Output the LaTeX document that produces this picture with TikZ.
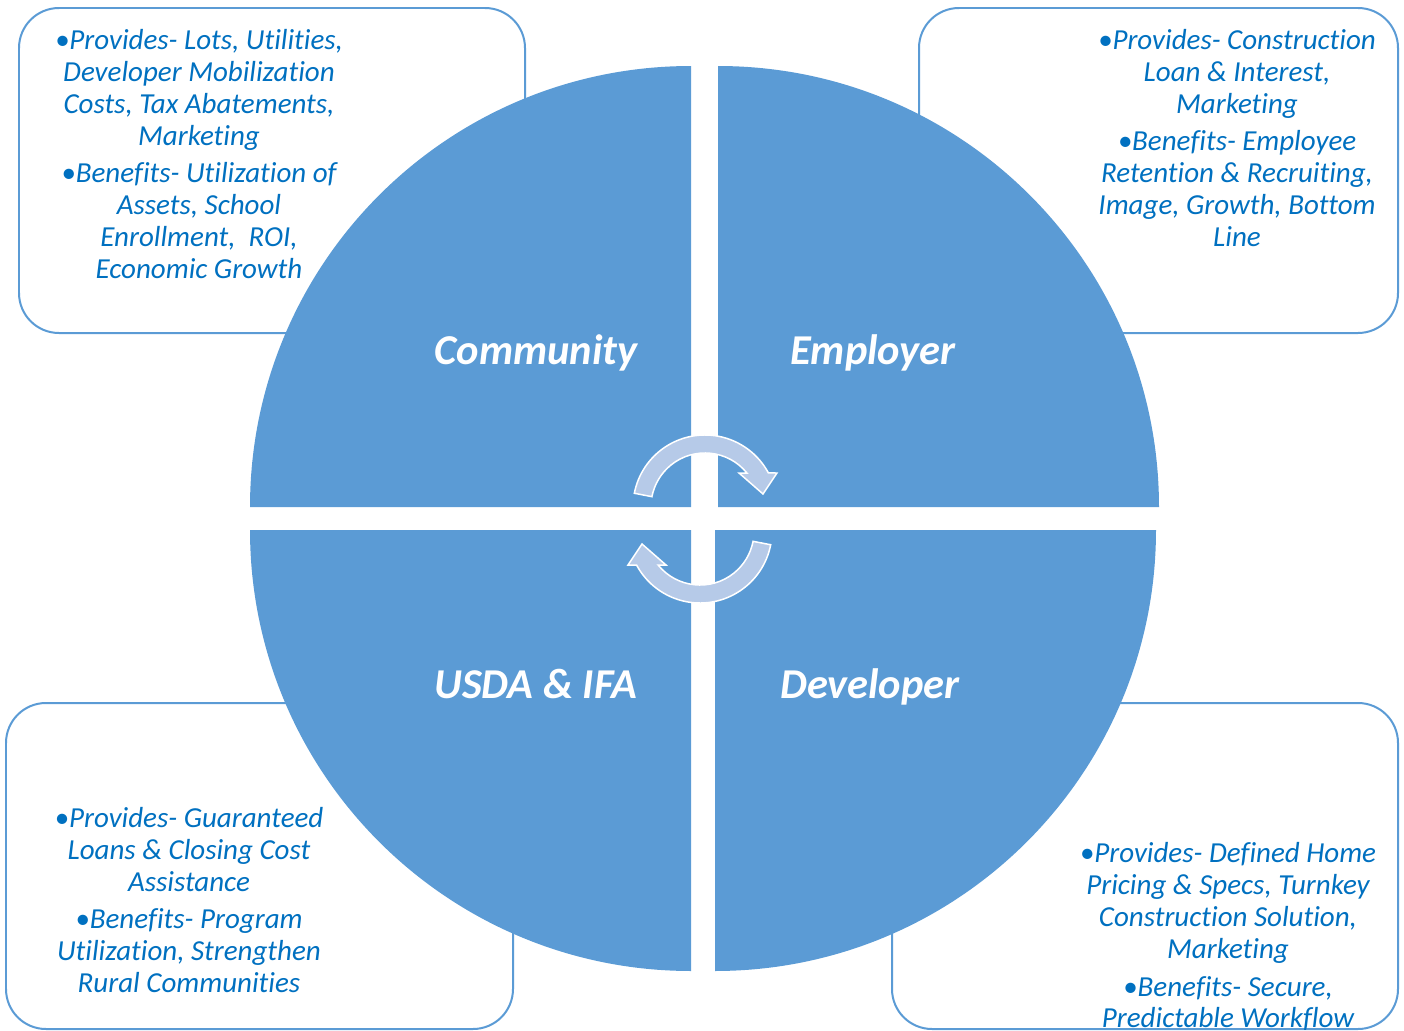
\documentclass[tikz,border=0pt]{standalone}
\usepackage{fontspec}
\setmainfont{Carlito}[Ligatures=CommonOff]
\definecolor{qblue}{HTML}{5B9BD5}
\definecolor{tblue}{HTML}{0070C0}
\definecolor{arrowfill}{HTML}{B6CAE8}
\begin{document}
\begin{tikzpicture}[x=0.02cm,y=-0.02cm,
  infobox/.style={draw=qblue, line width=0.04cm, rounded corners=0.8cm},
  infotext/.style={text=tblue, font=\fontsize{16.5}{18.1}\selectfont\itshape, align=center, inner sep=0},
  quad/.style={fill=qblue},
  lbl/.style={text=white, font=\fontsize{24.2}{28}\selectfont\bfseries\itshape, anchor=base, inner sep=0},
  cyc/.style={fill=arrowfill, draw=white, line width=0.03cm, line join=miter}]
\useasboundingbox (0,0) rectangle (1404,1031);

% info boxes
\draw[infobox] (19,8) rectangle (525,333);
\draw[infobox] (919,8) rectangle (1398,333);
\draw[infobox] (6,703) rectangle (513,1029);
\draw[infobox] (892,703) rectangle (1398,1029);

\node[infotext] (tltext) at (199,154) {%
  •Provides- Lots, Utilities,\\ Developer Mobilization\\ Costs, Tax Abatements,\\ Marketing\\[0.12cm]
  •Benefits- Utilization of\\ Assets, School\\ Enrollment,\ \ ROI,\\ Economic Growth};
\node[infotext] (trtext) at (1237,138) {%
  •Provides- Construction\\ Loan \& Interest,\\ Marketing\\[0.12cm]
  •Benefits- Employee\\ Retention \& Recruiting,\\ Image, Growth, Bottom\\ Line};
\node[infotext] (bltext) at (189,900) {%
  •Provides- Guaranteed\\ Loans \& Closing Cost\\ Assistance\\[0.12cm]
  •Benefits- Program\\ Utilization, Strengthen\\ Rural Communities};
\begin{scope}
  \clip (892,703) rectangle (1398,1029);
  \node[infotext] (brtext) at (1228,937) {%
    •Provides- Defined Home\\ Pricing \& Specs, Turnkey\\ Construction Solution,\\ Marketing\\[0.12cm]
    •Benefits- Secure,\\ Predictable Workflow};
\end{scope}

% quadrants
\fill[quad] (691,507) -- ++(180:441) arc[start angle=180,end angle=270,radius=441] -- cycle;
\fill[quad] (718,507) -- ++(270:441) arc[start angle=270,end angle=360,radius=441] -- cycle;
\fill[quad] (715,530) -- ++(0:441) arc[start angle=0,end angle=90,radius=441] -- cycle;
\fill[quad] (691,530) -- ++(90:441) arc[start angle=90,end angle=180,radius=441] -- cycle;

% circular arrows
\begin{scope}[shift={(705,507)}]
  \filldraw[cyc] (-169:72) arc[start angle=-169,end angle=-28.2,radius=72]
    -- (72,-34) -- (58,-13) -- (34,-34) -- (41.9,-34)
    arc[start angle=-39,end angle=-169,radius=54] -- cycle;
\end{scope}
\begin{scope}[shift={(700,531)},rotate=180]
  \filldraw[cyc] (-169:72) arc[start angle=-169,end angle=-28.2,radius=72]
    -- (72,-34) -- (58,-13) -- (34,-34) -- (41.9,-34)
    arc[start angle=-39,end angle=-169,radius=54] -- cycle;
\end{scope}

% labels
\node[lbl] (community) at (536,364) {Community};
\node[lbl] (employer) at (873,364) {Employer};
\node[lbl] (usda) at (536,698) {USDA \& IFA};
\node[lbl] (developer) at (870,698) {Developer};
\end{tikzpicture}
\end{document}
